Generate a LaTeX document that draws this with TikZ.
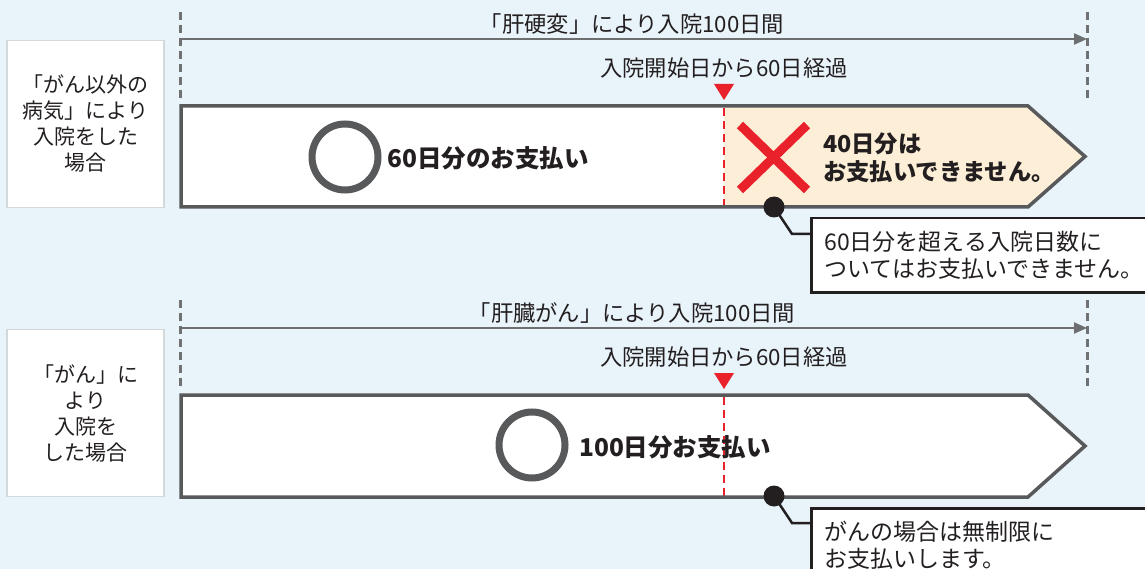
\documentclass[tikz,border=0pt]{standalone}
\usepackage{fontspec}
\setmainfont{Noto Sans CJK JP}
\usetikzlibrary{arrows.meta}
\definecolor{bgblue}{HTML}{E8F3FA}
\definecolor{framegray}{HTML}{58595B}
\definecolor{linegray}{HTML}{6D6E70}
\definecolor{dashgray}{HTML}{707173}
\definecolor{redmark}{HTML}{E8212B}
\definecolor{cream}{HTML}{FDEFD7}
\definecolor{boxborder}{HTML}{D3D8DB}
\definecolor{ink}{HTML}{231F20}
\tikzset{
  leftbox/.style={draw=boxborder, line width=1.5pt, fill=white, minimum width=157pt, minimum height=167pt, align=center, inner sep=0pt, text=ink, font=\fontsize{21}{26}\selectfont},
  guide/.style={dashgray, line width=3pt, dash pattern=on 8pt off 5pt},
  spanarrow/.style={linegray, line width=2pt, -{Triangle[length=13pt,width=11pt]}},
  toplabel/.style={text=ink, font=\fontsize{22.3}{26}\selectfont, inner sep=0pt},
  barframe/.style={draw=framegray, line width=3.5pt, line join=miter},
  redguide/.style={redmark, line width=2.5pt, dash pattern=on 8pt off 5pt},
  redtri/.style={fill=redmark, draw=none},
  okring/.style={draw=framegray, line width=7pt, circle, minimum size=66pt, inner sep=0pt},
  boldtext/.style={text=ink, font=\fontsize{24.5}{28}\selectfont\bfseries, inner sep=0pt, align=left},
  ngtext/.style={text=ink, font=\fontsize{23.3}{28}\selectfont\bfseries, inner sep=0pt, align=left},
  ngcross/.style={redmark, line width=9pt},
  pin/.style={circle, fill=ink, minimum size=21pt, inner sep=0pt},
  callout/.style={draw=ink, line width=2.5pt, fill=white, anchor=north west, minimum width=345pt, minimum height=69pt, text width=330pt, inner sep=13pt, align=left, text=ink, font=\fontsize{23}{27}\selectfont},
  leader/.style={ink, line width=2.5pt}
}
\begin{document}
\begin{tikzpicture}[x=1pt,y=-1pt]
\useasboundingbox (0,0) rectangle (1145,569);
\fill[bgblue] (0,0) rectangle (1145,569);

% ===== top section =====
\node[leftbox] (lb1) at (85.5,124) {「がん以外の\\病気」により\\入院をした\\場合};
\draw[guide] (180,12) -- (180,98);
\draw[guide] (1087,12) -- (1087,98);
\coordinate (s1) at (180,39);
\coordinate (e1) at (1087,39);
\draw[spanarrow] (s1) -- (e1);
\node[toplabel] (t1) at (632,24) {「肝硬変」により入院100日間};
\node[toplabel] (d1) at (724,68) {入院開始日から60日経過};
\fill[redtri] (714,84) -- (734,84) -- (724,100) -- cycle;
\fill[white] (181,106) rectangle (724,207);
\fill[cream] (724,106) -- (1028,106) -- (1085,156.5) -- (1028,207) -- (724,207) -- cycle;
\draw[redguide] (724,108) -- (724,206);
\draw[barframe] (181,106) -- (1028,106) -- (1085,156.5) -- (1028,207) -- (181,207) -- cycle;
\node[okring] (ok1) at (345,157) {};
\node[boldtext, anchor=west] (p1) at (387,158) {60日分のお支払い};
\draw[ngcross] (740,125) -- (807,190);
\draw[ngcross] (740,190) -- (807,125);
\node[ngtext, anchor=west] (n1) at (823,158) {40日分は\\お支払いできません。};
\node[callout] (c1) at (810,217) {60日分を超える入院日数に\\ついてはお支払いできません。};
\node[pin] (dot1) at (774,207) {};
\draw[leader] (dot1.center) -- (792,234) -- (c1.west |- 0,234);

% ===== bottom section =====
\node[leftbox] (lb2) at (85.5,413) {「がん」に\\より\\入院を\\した場合};
\draw[guide] (180,300) -- (180,387);
\draw[guide] (1087,300) -- (1087,387);
\coordinate (s2) at (180,328);
\coordinate (e2) at (1087,328);
\draw[spanarrow] (s2) -- (e2);
\node[toplabel] (t2) at (632,313) {「肝臓がん」により入院100日間};
\node[toplabel] (d2) at (724,357) {入院開始日から60日経過};
\fill[redtri] (714,373) -- (734,373) -- (724,389) -- cycle;
\fill[white] (181,395) -- (1028,395) -- (1085,446) -- (1028,497) -- (181,497) -- cycle;
\draw[redguide] (724,397) -- (724,496);
\draw[barframe] (181,395) -- (1028,395) -- (1085,446) -- (1028,497) -- (181,497) -- cycle;
\node[okring] (ok2) at (532,445) {};
\node[boldtext, anchor=west] (p2) at (579,447) {100日分お支払い};
\node[callout] (c2) at (810,507) {がんの場合は無制限に\\お支払いします。};
\node[pin] (dot2) at (774,496) {};
\draw[leader] (dot2.center) -- (792,523) -- (c2.west |- 0,523);
\end{tikzpicture}
\end{document}
